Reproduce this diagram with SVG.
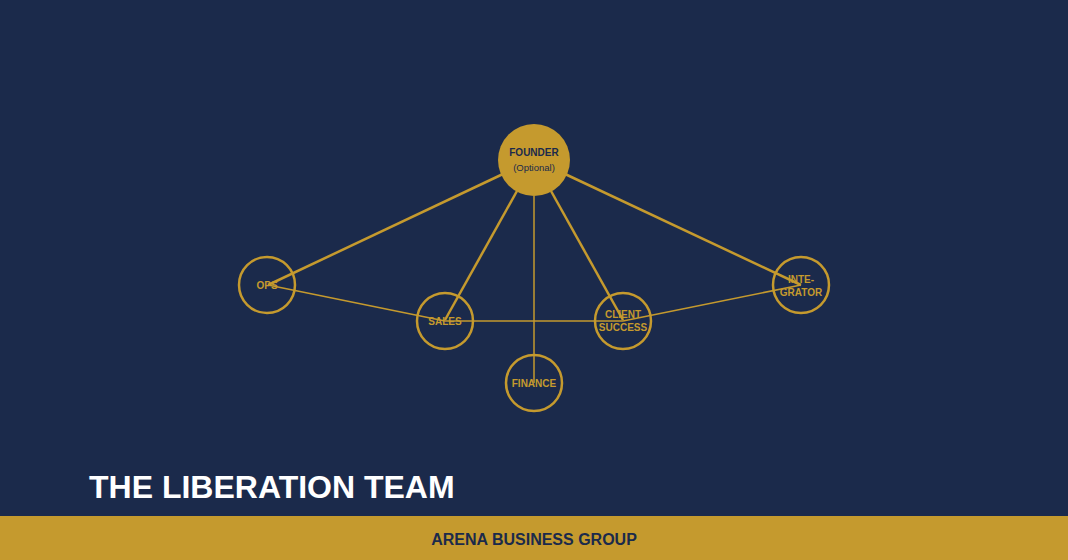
<svg xmlns="http://www.w3.org/2000/svg" width="1068" height="560" viewBox="0 0 1068 560">
<style>
.ring{fill:none;stroke:#C59A2E;stroke-width:2.5}
.lbl{font-family:"Liberation Sans",Arial,sans-serif;font-weight:bold;font-size:10px;fill:#C59A2E;text-anchor:middle}
.thick{stroke:#C59A2E;stroke-width:2.5;fill:none}
.thin{stroke:#C59A2E;stroke-width:1.5;fill:none}
</style>
<rect width="1068" height="560" fill="#1B2A4B"/>
<g id="connectors">
<line class="thick" x1="503" y1="174" x2="268" y2="285"/>
<line class="thick" x1="517" y1="191" x2="445" y2="320"/>
<line class="thin" x1="534" y1="196" x2="534" y2="383"/>
<line class="thick" x1="551" y1="191" x2="623" y2="320"/>
<line class="thick" x1="565" y1="174" x2="801" y2="285"/>
<line class="thin" x1="268" y1="285" x2="445" y2="321"/>
<line class="thin" x1="445" y1="321" x2="623" y2="321"/>
<line class="thin" x1="623" y1="321" x2="801" y2="285"/>
</g>
<g id="founder">
<circle cx="534" cy="160" r="36" fill="#C59A2E"/>
<text x="534" y="156" font-family="Liberation Sans,Arial,sans-serif" font-weight="bold" font-size="10" fill="#1B2A4B" text-anchor="middle">FOUNDER</text>
<text x="534" y="171" font-family="Liberation Sans,Arial,sans-serif" font-size="9.5" fill="#1B2A4B" text-anchor="middle">(Optional)</text>
</g>
<g id="ops">
<circle class="ring" cx="267" cy="285" r="28"/>
<text class="lbl" x="267" y="289">OPS</text>
</g>
<g id="sales">
<circle class="ring" cx="445" cy="321" r="28"/>
<text class="lbl" x="445" y="325">SALES</text>
</g>
<g id="client-success">
<circle class="ring" cx="623" cy="321" r="28"/>
<text class="lbl" x="623" y="318">CLIENT</text>
<text class="lbl" x="623" y="331">SUCCESS</text>
</g>
<g id="integrator">
<circle class="ring" cx="801" cy="285" r="28"/>
<text class="lbl" x="801" y="283">INTE-</text>
<text class="lbl" x="801" y="296">GRATOR</text>
</g>
<g id="finance">
<circle class="ring" cx="534" cy="383" r="28"/>
<text class="lbl" x="534" y="387">FINANCE</text>
</g>
<text x="89" y="498" font-family="Liberation Sans,Arial,sans-serif" font-weight="bold" font-size="32" fill="#FFFFFF">THE LIBERATION TEAM</text>
<rect x="0" y="516" width="1068" height="44" fill="#C59A2E"/>
<text x="534" y="545" font-family="Liberation Sans,Arial,sans-serif" font-weight="bold" font-size="16" fill="#1B2A4B" text-anchor="middle">ARENA BUSINESS GROUP</text>
</svg>
